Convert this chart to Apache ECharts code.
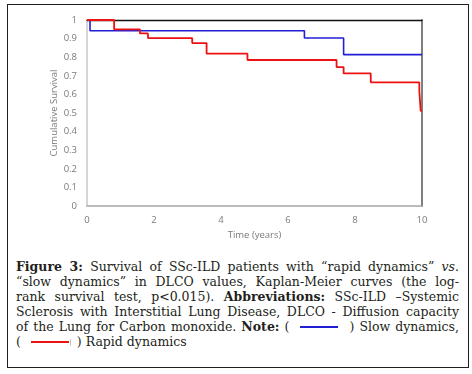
<!DOCTYPE html>
<html>
<head>
<meta charset="utf-8">
<script src="https://cdn.jsdelivr.net/npm/echarts@6/dist/echarts.min.js"></script>
<style>
  body { margin: 0; background: #fff; }
  #page { position: relative; width: 472px; height: 374px; overflow: hidden; }
  #frame { position: absolute; left: 7px; top: 4px; width: 462px; height: 364px; box-sizing: border-box; border: 1px solid #231f20; }
  #chart { position: absolute; left: 0; top: 0; width: 472px; height: 250px; }
  #caption { position: absolute; left: 16px; top: 259px; width: 443px; font-family: "DejaVu Serif", serif; font-size: 12.5px; line-height: 15px; color: #231f20; }
  #caption div { white-space: nowrap; text-align: justify; text-align-last: justify; }
  #caption div.last { text-align-last: left; }
  .key { display: inline-block; width: 38px; height: 2px; vertical-align: 3px; margin: 0 6px; }
  .tick { display: inline-block; width: 1px; height: 7px; background: #c8c8c8; vertical-align: 0; margin-left: -5px; margin-right: 6px; }
</style>
</head>
<body>
<div id="page">
  <div id="frame"></div>
  <div id="chart"></div>
  <div id="caption">
    <div><b>Figure 3:</b> Survival of SSc-ILD patients with “rapid dynamics” <i>vs.</i></div>
    <div>“slow dynamics” in DLCO values, Kaplan-Meier curves (the log-</div>
    <div>rank survival test, p&lt;0.015). <b>Abbreviations:</b> SSc-ILD –Systemic</div>
    <div>Sclerosis with Interstitial Lung Disease, DLCO - Diffusion capacity</div>
    <div>of the Lung for Carbon monoxide. <b>Note:</b> ( <span class="key" style="background:#1f1fd6"></span> ) Slow dynamics,</div>
    <div class="last">( <span class="key" style="background:#ee1111"></span><span class="tick"></span>) Rapid dynamics</div>
  </div>
</div>
<script>
// Kaplan-Meier steps: [time in years, cumulative survival]
const slowDynamics = [
  [0, 1], [0.09, 0.942], [6.49, 0.903], [7.66, 0.814], [10, 0.814]
]
const rapidDynamics = [
  [0, 1], [0.81, 0.95], [1.58, 0.928], [1.82, 0.903], [3.14, 0.876],
  [3.57, 0.819], [4.79, 0.785], [7.45, 0.747], [7.66, 0.713], [8.47, 0.665],
  [9.92, 0.618], [9.96, 0.512], [10, 0.512]
]
const xTickLabels = ['0', '2', '4', '6', '8', '10']
const yTickLabels = ['0', '0.1', '0.2', '0.3', '0.4', '0.5', '0.6', '0.7', '0.8', '0.9', '1']

const labelFont = {
  color: '#7a7a7a',
  fontFamily: 'Open Sans',
  fontSize: 9.5
}

const chart = echarts.init(document.getElementById('chart'))
const option = {
  animation: false,
  grid: {
    left: 87,
    right: 50,
    top: 20,
    bottom: 44
  },
  xAxis: [
    {
      type: 'value',
      min: 0,
      max: 10,
      interval: 2,
      name: 'Time (years)',
      nameLocation: 'middle',
      nameGap: 24,
      nameMoveOverlap: false,
      nameTextStyle: labelFont,
      axisLine: { lineStyle: { color: '#a6a6a6', width: 1.5 } },
      axisTick: { show: false },
      splitLine: { show: false },
      axisLabel: Object.assign({
        margin: 9,
        formatter: (v) => xTickLabels[Math.round(v / 2)]
      }, labelFont)
    },
    {
      type: 'value',
      position: 'top',
      min: 0,
      max: 10,
      axisLine: { show: true, onZero: false, lineStyle: { color: '#111', width: 1.3 } },
      axisTick: { show: false },
      axisLabel: { show: false },
      splitLine: { show: false }
    }
  ],
  yAxis: [
    {
      type: 'value',
      min: 0,
      max: 1,
      interval: 0.1,
      name: 'Cumulative Survival',
      nameLocation: 'middle',
      nameGap: 28,
      nameMoveOverlap: false,
      nameTextStyle: labelFont,
      axisLine: { show: true, onZero: false, lineStyle: { color: '#c8c8c8', width: 1.5 } },
      axisTick: { show: false },
      splitLine: { show: false },
      axisLabel: Object.assign({
        margin: 10,
        formatter: (v) => yTickLabels[Math.round(v * 10)]
      }, labelFont)
    },
    {
      type: 'value',
      position: 'right',
      min: 0,
      max: 1,
      axisLine: { show: true, onZero: false, lineStyle: { color: '#7f7f7f', width: 2 } },
      axisTick: { show: false },
      axisLabel: { show: false },
      splitLine: { show: false }
    }
  ],
  series: [
    {
      name: 'Slow dynamics',
      type: 'line',
      step: 'end',
      data: slowDynamics,
      showSymbol: false,
      lineStyle: { color: '#1f1fd6', width: 1.6 },
      z: 3
    },
    {
      name: 'Rapid dynamics',
      type: 'line',
      step: 'end',
      data: rapidDynamics,
      showSymbol: false,
      lineStyle: { color: '#ee1111', width: 1.8 },
      z: 4
    }
  ]
}
chart.setOption(option)
</script>
</body>
</html>
